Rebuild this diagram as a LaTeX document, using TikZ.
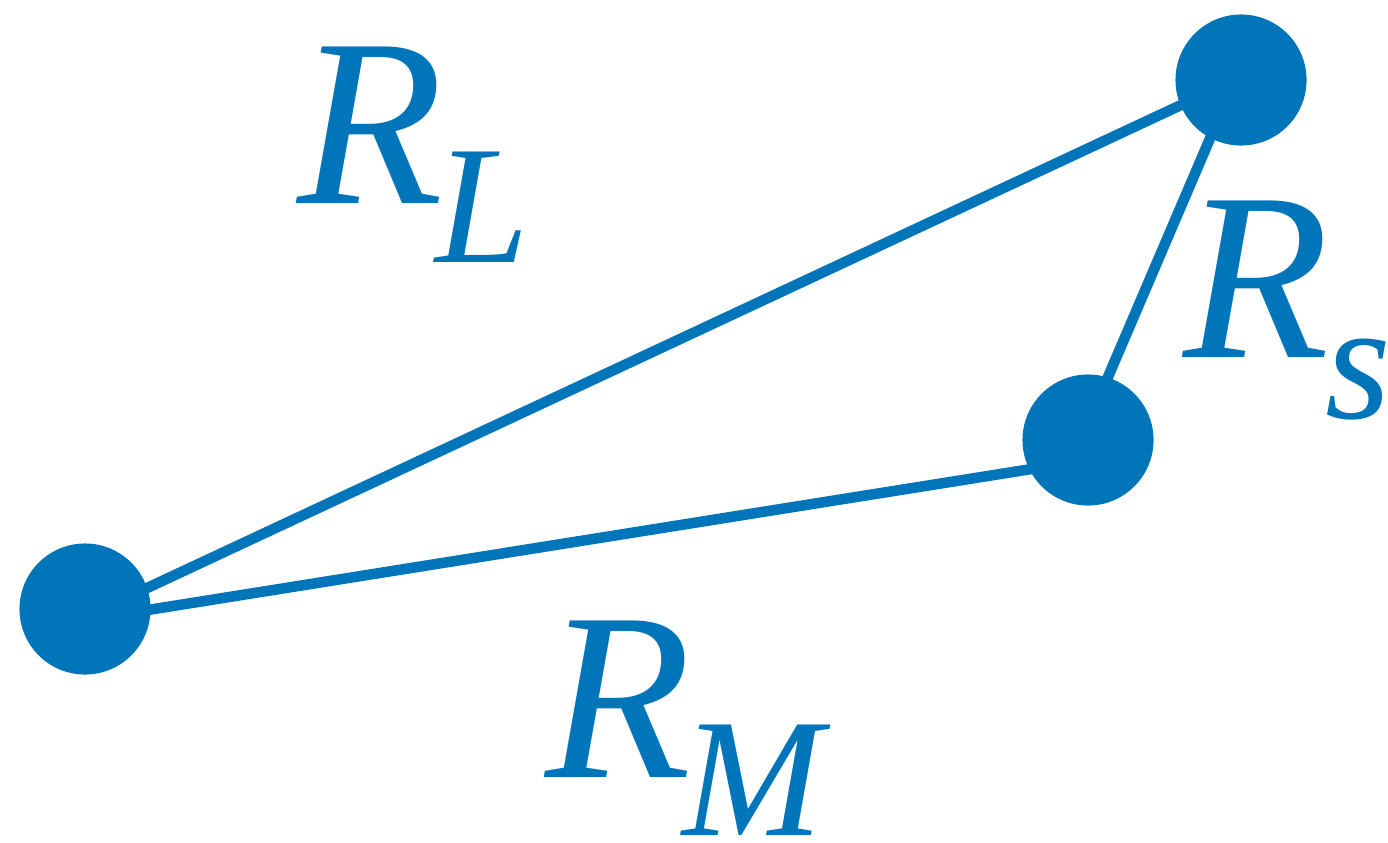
\documentclass[tikz,border=0pt]{standalone}
\usepackage{fontspec}
\setmainfont{Liberation Serif}[ItalicFont={Liberation Serif Italic}]
\definecolor{mblue}{HTML}{0075BA}
\begin{document}
\begin{tikzpicture}[x=0.01cm,y=-0.01cm,
  dot/.style={circle,fill=mblue,inner sep=0pt,minimum size=1.31cm},
  edge/.style={draw=mblue,line width=0.105cm},
  lbl/.style={text=mblue,inner sep=0pt,anchor=base west},
  big/.style={font=\fontsize{68}{68}\selectfont\itshape},
  small/.style={font=\fontsize{48}{48}\selectfont\itshape}]
\useasboundingbox (0,0) rectangle (1388,842);
\coordinate (l1) at (85,617);
\coordinate (t1) at (1241,77);
\coordinate (l2) at (85,620);
\coordinate (m2) at (1088,460);
\coordinate (t3) at (1235,80);
\coordinate (m3) at (1081,440);
\draw[edge] (l1) -- (t1);
\draw[edge] (l2) -- (m2);
\draw[edge] (t3) -- (m3);
\node[dot] (L) at (85,609) {};
\node[dot] (T) at (1241,80) {};
\node[dot] (M) at (1088,440) {};
\node[lbl,big] (RL) at (297,203) {R};
\node[lbl,small] (sL) at (435,262) {L};
\node[lbl,big] (RS) at (1183,357) {R};
\node[lbl,small] (sS) at (1325,418) {s};
\node[lbl,big] (RM) at (545,777) {R};
\node[lbl,small] (sM) at (682,835) {M};
\end{tikzpicture}
\end{document}
